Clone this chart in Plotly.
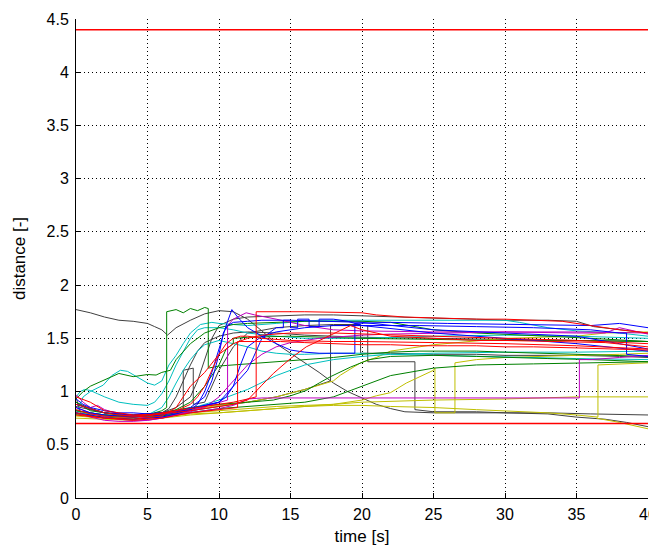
import plotly.graph_objects as go

# ---- data ----
bound_t = [0, 40]
bound_low = [0.7, 0.7]
bound_high = [4.4, 4.4]

blue_t = [
    [0,0.5,1,2,3,4,5,6,7,8,8.5,9,9.5,10,10.5,10.9,11.3,12,13,14,15,16,17,18,19,19.5,19.5,22,26,30,34,36,38,40],
    [0,1,2,3,4,5,6,7,8,9,9.5,10,10.3,10.6,11,12,13,15,17,20,25,30,35,38,40],
    [0,1,2,4,6,7,8,9,10,10.5,11,11.5,12,13,14,15,16,18,20,24,28,32,36,38,38.5,38.5,40],
    [0,2,4,6,8,10,12,13,14,14.5,14.5,15,15,15.5,15.5,16.3,16.3,17,17,18,19,20,25,30,35,40],
]
blue_y = [
    [0.93,0.88,0.85,0.82,0.80,0.80,0.79,0.80,0.81,0.83,0.88,1.0,1.18,1.4,1.62,1.77,1.70,1.60,1.52,1.45,1.39,1.37,1.36,1.36,1.36,1.36,1.64,1.65,1.64,1.63,1.62,1.62,1.64,1.60],
    [0.85,0.80,0.78,0.77,0.76,0.77,0.78,0.80,0.85,0.95,1.1,1.35,1.55,1.62,1.65,1.66,1.67,1.67,1.66,1.65,1.58,1.55,1.52,1.45,1.40],
    [0.80,0.78,0.75,0.74,0.76,0.79,0.83,0.87,0.9,0.95,1.05,1.25,1.42,1.52,1.56,1.58,1.60,1.62,1.62,1.62,1.61,1.60,1.58,1.55,1.55,1.35,1.33],
    [0.88,0.8,0.78,0.8,0.84,0.9,1.2,1.5,1.6,1.6,1.67,1.67,1.6,1.6,1.68,1.68,1.61,1.61,1.68,1.68,1.66,1.62,1.55,1.5,1.45,1.38],
]

green_t = [
    [0,0.5,1,2,3,4,5,5.6,6,6.6,7,8,9,10,11,12,14,16,18,20,22,25,28,30,33,36,40],
    [0,1,2,3,4,5,6,6.34,6.34,7,7.5,8,8.5,9,9.25,9.25,10,12,14,16,18,20,22,24,26,28,30,35,40],
    [0,2,4,6,8,10,12,13.8,15,16.1,17,17.8,19.2,20.5,22,25,28,30,33,36,40],
    [0,2,4,6,7,8,9,10,10.5,11,11,12,15,20,25,30,35,40],
    [0,2,4,6,8,9,10,11,12,14,16,18,20,22,25,28,32,36,40],
]
green_y = [
    [0.93,1.0,1.05,1.11,1.17,1.14,1.16,1.155,1.18,1.2,1.3,1.45,1.55,1.6,1.63,1.64,1.65,1.66,1.66,1.66,1.65,1.58,1.55,1.54,1.52,1.50,1.47],
    [0.9,0.82,0.8,0.78,0.77,0.78,0.82,0.85,1.75,1.77,1.74,1.78,1.76,1.79,1.78,1.22,1.24,1.26,1.28,1.3,1.32,1.35,1.37,1.38,1.38,1.38,1.37,1.35,1.33],
    [0.88,0.8,0.78,0.8,0.85,0.88,0.9,0.92,0.96,1.01,1.08,1.14,1.23,1.30,1.33,1.34,1.33,1.32,1.31,1.30,1.28],
    [0.82,0.78,0.76,0.79,0.83,0.9,1.05,1.25,1.4,1.45,1.5,1.51,1.52,1.50,1.49,1.48,1.48,1.47],
    [0.79,0.76,0.74,0.77,0.8,0.82,0.84,0.85,0.86,0.88,0.9,0.95,1.05,1.15,1.22,1.25,1.26,1.27,1.28],
]

red_t = [
    [0,1,2,3,4,5,6,7,8,9,10,11,12,12.6,12.6,16,20,21,23,25,28,30,32,34,36,38,40],
    [0,1,2,4,6,8,10,11,12,12.2,13,13.8,15,16.1,17.3,18.5,19.2,20,22,25,28,30,34,37,40],
    [0,1,2,3,4,5,6,7,8,8.5,9,9.5,10,10.5,11,11.5,12,13,15,18,20,25,30,35,40],
    [0,1,2,4,6,8,10,11,11.3,11.3,14.3,16,18,20,22,24,26,28,30,32,35,38,40],
    [0,2,4,6,7,7.5,8,9,9.6,10,11,12,13,15,18,20,25,30,35,40],
]
red_y = [
    [0.88,0.84,0.8,0.78,0.77,0.78,0.8,0.82,0.84,0.86,0.88,0.9,0.93,0.95,1.75,1.75,1.74,1.72,1.70,1.69,1.68,1.68,1.67,1.66,1.62,1.58,1.55],
    [0.95,0.9,0.82,0.78,0.79,0.82,0.86,0.88,0.92,0.95,1.06,1.17,1.31,1.42,1.5,1.58,1.62,1.58,1.52,1.5,1.48,1.48,1.47,1.46,1.42],
    [0.83,0.79,0.77,0.76,0.76,0.77,0.79,0.82,0.88,0.95,1.05,1.2,1.35,1.45,1.5,1.52,1.52,1.5,1.48,1.47,1.47,1.46,1.45,1.43,1.40],
    [0.8,0.77,0.75,0.73,0.75,0.8,0.83,0.84,0.85,1.47,1.47,1.46,1.45,1.44,1.44,1.43,1.43,1.43,1.42,1.42,1.41,1.40,1.39],
    [0.78,0.75,0.74,0.77,0.85,0.95,1.05,1.18,1.28,1.35,1.45,1.5,1.53,1.55,1.55,1.54,1.52,1.5,1.48,1.45],
]

cyan_t = [
    [0,0.5,1,1.9,2.5,3.1,3.6,4.2,5,5.5,6,6.5,7,7.5,8,8.7,9.5,10,11,12,14,16,17,20,25,30,31,33,35,38,40],
    [0,0.3,0.6,1,1.5,2,3,4,5,5.5,6,6.5,7,7.5,8,8.5,9,10,11,12,14,16,18,20,25,30,35,40],
    [0,2,4,5,6,6.5,7,7.5,8,8.5,9,10,11,12,13,14,15,16,18,20,22,25,28,30,32,35,40],
    [0,2,4,6,8,10,12,14,16,18,20,22,25,28,30,35,40],
]
cyan_y = [
    [0.78,0.95,1.0,1.06,1.15,1.2,1.19,1.14,1.08,1.06,1.1,1.25,1.34,1.45,1.55,1.63,1.65,1.64,1.63,1.62,1.64,1.66,1.67,1.67,1.67,1.67,1.65,1.6,1.57,1.55,1.52],
    [0.95,1.0,1.02,1.01,0.98,0.95,0.9,0.88,0.87,0.9,0.98,1.1,1.25,1.38,1.5,1.58,1.6,1.6,1.58,1.55,1.52,1.5,1.5,1.5,1.52,1.53,1.52,1.50],
    [0.8,0.77,0.76,0.78,0.85,0.95,1.08,1.2,1.3,1.38,1.44,1.48,1.45,1.42,1.38,1.36,1.35,1.35,1.36,1.36,1.35,1.34,1.33,1.32,1.32,1.31,1.30],
    [0.82,0.78,0.76,0.78,0.84,0.92,1.02,1.15,1.25,1.3,1.33,1.35,1.36,1.37,1.37,1.37,1.38],
]

magenta_t = [
    [0,0.5,1,1.5,2,3,4,5,6,7,8,9,10,11,12,13,15,20,25,30,35.2,35.2,36,38,40],
    [0,1,2,3,4,5,6,7,8,9,10,10.6,10.6,11,11.9,12.5,14,16,18,20,25,30,35,37,38,40],
    [0,1,2,3,4,5,6,7,8,9,10,11,12,13,14,15,17,19,20,22,25,30,35,40],
]
magenta_y = [
    [0.97,0.9,0.85,0.87,0.83,0.79,0.77,0.75,0.76,0.78,0.8,0.82,0.84,0.87,0.93,0.94,0.94,0.94,0.94,0.94,0.94,1.3,1.3,1.32,1.34],
    [0.85,0.8,0.76,0.74,0.73,0.73,0.75,0.78,0.82,0.86,0.9,0.92,1.62,1.68,1.74,1.72,1.68,1.62,1.58,1.57,1.56,1.56,1.55,1.55,1.6,1.54],
    [0.8,0.76,0.73,0.72,0.72,0.73,0.75,0.78,0.81,0.85,0.95,1.1,1.25,1.35,1.42,1.46,1.5,1.52,1.53,1.54,1.55,1.56,1.56,1.55],
]

yellow_t = [
    [0,1,2,3,4,5,6,7,8,9,10,12,14,16,18,18.5,19.9,21,22,25,28,30,35,37,40],
    [0,2,4,6,8,10,12,14,16,18,20,21,22,23.1,25,25.1,25.1,26.5,26.5,28,30,32,35,38,40],
    [0,2,4,6,8,10,12,14,16,18,20,25,30,35,40],
    [0,2,4,6,8,10,12,14,16,18,20,22,25,28,30,33,35,36.5,36.5,38,40],
    [36.4,38,40],
]
yellow_y = [
    [0.78,0.77,0.76,0.76,0.75,0.76,0.77,0.8,0.83,0.85,0.87,0.9,0.95,1.02,1.1,1.155,1.27,1.32,1.38,1.44,1.48,1.5,1.52,1.55,1.56],
    [0.75,0.74,0.73,0.75,0.78,0.8,0.82,0.84,0.86,0.88,0.92,0.96,0.99,1.08,1.2,1.22,0.8,0.8,1.27,1.3,1.32,1.33,1.34,1.35,1.36],
    [0.8,0.78,0.77,0.78,0.8,0.82,0.84,0.86,0.87,0.88,0.9,0.92,0.93,0.95,0.95],
    [0.77,0.75,0.74,0.76,0.79,0.8,0.82,0.84,0.86,0.87,0.87,0.86,0.85,0.83,0.82,0.8,0.78,0.76,1.25,1.26,1.27],
    [0.75,0.71,0.65],
]

gray_t = [
    [0,1,2,3,4,5,5.5,6,6.4,7,8,9,10,11,12,13,14,15,16,17,18,19,20,21,22,23,25,30,33,35,37,38.5,40],
    [0,0.3,1,2,3,4,5,6,6.5,7,7.5,8,8.5,9,10,11,12,14,16,18,20,25,30,35,40],
    [0,2,4,6,8,10,12,14,16,17.8,17.8,20.4,20.4,23.7,23.7,25,28,30,33,36,40],
    [0,1,2,3,4,5,6,7,7.5,7.5,8.2,8.2,9,10,11,12,14,16,18,19.9,19.9,22,25,28,30,35,38,40],
    [0,2,4,6,7,8,8.5,9,9.5,10,11,12,14,16,18,20,22,25,28,30,33,35,36.2,38,40],
]
gray_y = [
    [1.77,1.74,1.70,1.67,1.66,1.64,1.61,1.58,1.53,1.6,1.67,1.73,1.76,1.75,1.68,1.57,1.45,1.36,1.27,1.18,1.08,1.0,0.94,0.88,0.84,0.81,0.80,0.80,0.79,0.76,0.74,0.71,0.67],
    [0.95,0.8,0.79,0.78,0.77,0.77,0.78,0.8,0.84,0.95,1.1,1.25,1.38,1.46,1.52,1.55,1.56,1.55,1.53,1.52,1.51,1.5,1.49,1.48,1.47],
    [0.82,0.78,0.76,0.77,0.82,0.86,0.9,0.95,1.02,1.1,1.62,1.62,1.28,1.28,0.83,0.81,0.81,0.8,0.8,0.79,0.78],
    [0.9,0.84,0.8,0.78,0.77,0.77,0.78,0.8,0.82,1.2,1.22,0.88,0.9,1.2,1.42,1.55,1.6,1.62,1.63,1.63,1.36,1.36,1.35,1.35,1.34,1.34,1.33,1.32],
    [0.86,0.8,0.78,0.8,0.85,0.95,1.1,1.3,1.5,1.62,1.68,1.7,1.71,1.72,1.72,1.71,1.7,1.69,1.68,1.67,1.67,1.66,1.61,1.58,1.55],
]

x_ticks = [0, 5, 10, 15, 20, 25, 30, 35, 40]
y_ticks = [0, 0.5, 1, 1.5, 2, 2.5, 3, 3.5, 4, 4.5]
y_tick_text = ["0", "0.5", "1", "1.5", "2", "2.5", "3", "3.5", "4", "4.5"]

# ---- figure ----
fig = go.Figure()

groups = [
    (gray_t, gray_y, "#404040"),
    (yellow_t, yellow_y, "#BFBF00"),
    (cyan_t, cyan_y, "#00BFBF"),
    (green_t, green_y, "#008000"),
    (magenta_t, magenta_y, "#BF00BF"),
    (blue_t, blue_y, "#0000FF"),
    (red_t, red_y, "#FF0000"),
]
for ts, ys, col in groups:
    for t, y in zip(ts, ys):
        fig.add_trace(go.Scatter(x=t, y=y, mode="lines",
                                 line=dict(color=col, width=1),
                                 hoverinfo="skip", showlegend=False))

for yb in (bound_low, bound_high):
    fig.add_trace(go.Scatter(x=bound_t, y=yb, mode="lines",
                             line=dict(color="#FF0000", width=1.5),
                             hoverinfo="skip", showlegend=False))

FONT = "Liberation Sans, Arial, sans-serif"
axis_common = dict(
    showgrid=True, gridcolor="#000000", gridwidth=1, griddash="1px,3px",
    showline=True, linecolor="#000000", linewidth=1, mirror=False,
    ticks="inside", ticklen=5, tickcolor="#000000",
    zeroline=False, automargin=False,
    tickfont=dict(family=FONT, size=16, color="#000000"),
)

# the page body adds an 8px offset, so the figure is sized to fit the window
fig.update_layout(
    width=649, height=545,
    margin=dict(l=68, r=9, t=11, b=55),
    paper_bgcolor="white", plot_bgcolor="white",
    showlegend=False,
    xaxis=dict(range=[0, 40], tickvals=x_ticks, ticklabelstandoff=2,
               title=dict(text="time [s]", standoff=7,
                          font=dict(family=FONT, size=17, color="#000000")),
               **axis_common),
    yaxis=dict(range=[0, 4.5], tickvals=y_ticks, ticktext=y_tick_text,
               ticklabelstandoff=3,
               title=dict(text="distance [-]", standoff=16,
                          font=dict(family=FONT, size=17, color="#000000")),
               **axis_common),
)

fig.write_html("out.html")
